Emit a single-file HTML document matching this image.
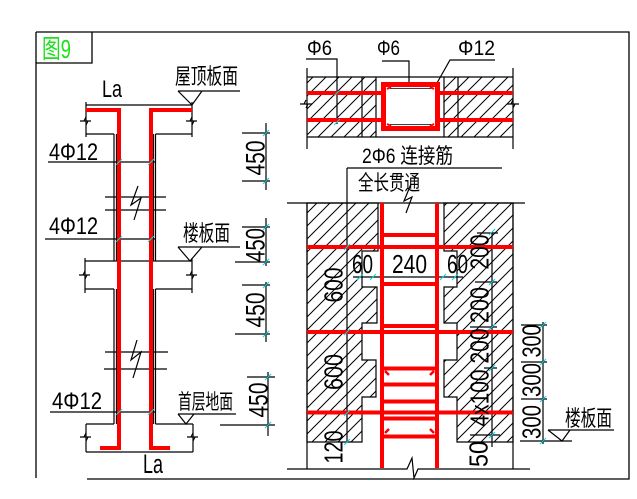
<!DOCTYPE html>
<html><head><meta charset="utf-8"><style>
html,body{margin:0;padding:0;background:#fff;}
svg{display:block;}
text{font-family:"Liberation Sans","Noto Sans CJK SC",sans-serif;fill:#000;}
</style></head><body>
<svg width="637" height="499" viewBox="0 0 637 499" xmlns="http://www.w3.org/2000/svg">
<defs>
<pattern id="h" patternUnits="userSpaceOnUse" width="13" height="13">
<path d="M0,13 L13,0 M-2,2 L2,-2 M11,15 L15,11" stroke="#000" stroke-width="1"/>
</pattern>
</defs>
<rect width="637" height="499" fill="#fff"/>

<!-- frame -->
<g stroke="#000" stroke-width="1.3" fill="none">
<path d="M36,32 H629 V479 H87 M36,32 V478 M36,63 H92 V32"/>
</g>
<text x="42" y="58" font-size="26" style="fill:#1ee01e" textLength="29" lengthAdjust="spacingAndGlyphs">图9</text>

<!-- ===== LEFT ELEVATION ===== -->
<g stroke="#000" stroke-width="1.2" fill="none">
<!-- top beam -->
<path d="M86,105 H192 M86,134 H114 M155.5,134 H192 M86,102 V137 M192,102 V137"/>
<path d="M80,121 H91 M86,117 L84,121 L88,121 L86,125 M186,121 H197 M192,117 L190,121 L194,121 L192,125"/>
<!-- column upper -->
<path d="M114,134 V261 M116.5,134 V261 M153.5,134 V261 M155.5,134 V261"/>
<!-- break 1 -->
<path d="M105,197 H166 M105,210 H166"/>
<path d="M138,186 L131,205 L141,198 L134,220"/>
<!-- slab -->
<path d="M85,261 H192 M85,289 H114 M155.5,289 H192 M85,258 V293 M192,258 V293"/>
<path d="M79,275 H90 M85,271 L83,275 L87,275 L85,279 M186,275 H197 M192,271 L190,275 L194,275 L192,279"/>
<!-- column lower -->
<path d="M114,289 V424 M116.5,289 V424 M153.5,289 V424 M155.5,289 V424"/>
<!-- break 2 -->
<path d="M105,352 H168 M104,369 H167"/>
<path d="M137,340 L131,360 L141,352 L133,378"/>
<!-- ground beam -->
<path d="M86,424 H114 M155.5,424 H193 M86,452 H193 M86,424 V452 M193,424 V452"/>
<path d="M80,437 H91 M86,433 L84,437 L88,437 L86,441 M187,437 H198 M193,433 L191,437 L195,437 L193,441"/>
<!-- leaders -->
<path d="M48,162 H155 M45,239 H155 M50,412 H155"/>
<!-- labels underline + triangles -->
<path d="M178,91 H240 M178,91 L192,105 L202,91"/>
<path d="M178,247 H240 M178,247 L190,261 L202,247"/>
<path d="M178,414 H236 M178,414 L186,424 L194,414"/>
<!-- dims 450 -->
<path d="M266,123 V190 M242,133 H270 M242,181 H270"/>
<path d="M266,218 V266 M242,227 H270 M235,262 H270"/>
<path d="M266,282 V342 M242,285 H270 M235,334 H270"/>
<path d="M268,372 V436 M247,377 H275 M220,425 H275"/>
</g>
<!-- red rebar left -->
<g stroke="#ff0000" stroke-width="4" fill="none" stroke-linejoin="miter">
<path d="M86,110 H119 V448 H100"/>
<path d="M192,110 H151 V448 H170"/>
</g>
<!-- cyan ticks left -->
<g stroke="#00d8e8" stroke-width="1">
<path d="M116,165 L122,159 M148,165 L154,159 M116,242 L122,236 M148,242 L154,236 M116,415 L122,409 M148,415 L154,409"/>
<path d="M263,136 L269,130 M263,184 L269,178 M263,230 L269,224 M263,265 L269,259 M263,288 L269,282 M263,337 L269,331 M265,380 L271,374 M265,428 L271,422"/>
</g>
<!-- left texts -->
<text x="102" y="97" font-size="24" textLength="20" lengthAdjust="spacingAndGlyphs">La</text>
<text x="143" y="473" font-size="27" textLength="20" lengthAdjust="spacingAndGlyphs">La</text>
<text x="49" y="160" font-size="24" textLength="49" lengthAdjust="spacingAndGlyphs">4Φ12</text>
<text x="49" y="234" font-size="24" textLength="49" lengthAdjust="spacingAndGlyphs">4Φ12</text>
<text x="52" y="409" font-size="24" textLength="50" lengthAdjust="spacingAndGlyphs">4Φ12</text>
<text x="175" y="84" font-size="22" textLength="63" lengthAdjust="spacingAndGlyphs">屋顶板面</text>
<text x="183" y="241" font-size="22" textLength="47" lengthAdjust="spacingAndGlyphs">楼板面</text>
<text x="178" y="409" font-size="21" textLength="55" lengthAdjust="spacingAndGlyphs">首层地面</text>
<g font-size="27">
<text transform="translate(255,158) rotate(-90)" text-anchor="middle" dy="0.36em" textLength="35" lengthAdjust="spacingAndGlyphs">450</text>
<text transform="translate(255,245) rotate(-90)" text-anchor="middle" dy="0.36em" textLength="34" lengthAdjust="spacingAndGlyphs">450</text>
<text transform="translate(255,310) rotate(-90)" text-anchor="middle" dy="0.36em" textLength="35" lengthAdjust="spacingAndGlyphs">450</text>
<text transform="translate(258,400) rotate(-90)" text-anchor="middle" dy="0.36em" textLength="35" lengthAdjust="spacingAndGlyphs">450</text>
</g>

<!-- ===== TOP PLAN ===== -->
<rect x="307" y="77" width="69" height="60" fill="url(#h)"/>
<rect x="444" y="77" width="69" height="60" fill="url(#h)"/>
<g stroke="#000" stroke-width="1.2" fill="none">
<path d="M307,77 H513 M307,137 H513 M307,68 V149 M513,68 V149 M362,77 V137 M376,77 V137 M444,77 V137 M458,77 V137"/>
<path d="M300,104 H312 M306,100 L304,104 L308,104 L306,108 M507,104 H519 M513,100 L511,104 L515,104 L513,108"/>
<path d="M306,59 H337 V124 M382,61 H409 V83 M495,60 H450 L437,83"/>
</g>
<g stroke="#ff0000" stroke-width="4" fill="none">
<path d="M307,93 H382 M439,93 H513 M307,120 H382 M439,120 H513"/>
</g>
<rect x="383.5" y="84.5" width="54" height="44" fill="#fff" stroke="#ff0000" stroke-width="5"/>
<g stroke="#ff0000" stroke-width="2" fill="none">
<path d="M387,89 L391,87 M434,89 L430,87 M387,124 L391,126 M434,124 L430,126"/>
</g>
<g stroke="#000" stroke-width="0.8" fill="none">
<path d="M390,88.5 H431 M390,124.5 H431"/>
</g>
<g stroke="#00d8e8" stroke-width="1">
<path d="M334,96 L340,90 M334,125 L340,119"/>
</g>
<text x="307" y="55" font-size="21" textLength="25" lengthAdjust="spacingAndGlyphs">Φ6</text>
<text x="377" y="55" font-size="21" textLength="23" lengthAdjust="spacingAndGlyphs">Φ6</text>
<text x="458" y="55" font-size="21" textLength="37" lengthAdjust="spacingAndGlyphs">Φ12</text>
<text x="362" y="163" font-size="21" textLength="91" lengthAdjust="spacingAndGlyphs">2Φ6 连接筋</text>
<text x="358" y="190" font-size="21" textLength="62" lengthAdjust="spacingAndGlyphs">全长贯通</text>

<!-- ===== ELEVATION SECTION ===== -->
<polygon points="307,203 378,203 378,251 362,251 362,287 377,287 377,323 362,323 362,360 376,360 376,397 362,397 362,442 307,442" fill="url(#h)" stroke="#000" stroke-width="1.2"/>
<polygon points="444,203 513,203 513,442 457,442 457,397 444,397 444,360 457,360 457,323 444,323 444,287 457,287 457,251 444,251" fill="url(#h)" stroke="#000" stroke-width="1.2"/>
<g stroke="#000" stroke-width="1.2" fill="none">
<path d="M287,203 H525 M307,203 V469 M513,203 V469"/>
<path d="M347,168 H502 M347,168 V442"/>
<path d="M411,184 L404,201 L412,197 L406,213"/>
<path d="M287,469 H407 L412,458 L414,478 L418,469 H530"/>
<!-- 60 240 60 dim -->
<path d="M353,277 H463"/>
<!-- right dims -->
<path d="M492,232 V447 M477,233 H498 M475,282 H497 M470,327 H497 M484,368 H497 M470,435 H500"/>
<path d="M543,322 V444 M521,325 H547 M521,362 H547 M521,399 H547 M520,441 H572"/>
<path d="M548,430 H614 M548,430 L562,441 L570,430"/>
</g>
<!-- red in elevation -->
<g stroke="#ff0000" stroke-width="4" fill="none">
<path d="M382,203 V468 M437,203 V468"/>
<path d="M307,247 H513 M307,332 H513 M307,412.5 H513"/>
<path d="M382,235 H437 M382,284 H437 M382,326 H437 M382,368.5 H437 M382,384.5 H437 M382,401.5 H437 M382,418.5 H437 M382,436.5 H437"/>
</g>
<g stroke="#ff0000" stroke-width="2.5" fill="none">
<path d="M385,371 L389,375 M434,371 L430,375 M385,433 L389,429 M434,433 L430,429"/>
</g>
<g stroke="#00d8e8" stroke-width="1">
<path d="M344,250 L350,244 M344,335 L350,329 M344,416 L350,410 M344,445 L350,439"/>
<path d="M357,280 L363,274 M370,280 L376,274 M440,280 L446,274 M452,280 L458,274"/>
<path d="M489,235 L495,229 M489,285 L495,279 M489,330 L495,324 M489,371 L495,365 M489,438 L495,432"/>
<path d="M540,328 L546,322 M540,365 L546,359 M540,402 L546,396 M540,444 L546,438"/>
</g>
<!-- elevation texts -->
<text x="352" y="273" font-size="26" textLength="21" lengthAdjust="spacingAndGlyphs">60</text>
<text x="392" y="273" font-size="26" textLength="35" lengthAdjust="spacingAndGlyphs">240</text>
<text x="447" y="273" font-size="26" textLength="21" lengthAdjust="spacingAndGlyphs">60</text>
<g font-size="26">
<text transform="translate(333,285) rotate(-90)" text-anchor="middle" dy="0.36em" textLength="35" lengthAdjust="spacingAndGlyphs">600</text>
<text transform="translate(333,372) rotate(-90)" text-anchor="middle" dy="0.36em" textLength="36" lengthAdjust="spacingAndGlyphs">600</text>
<text transform="translate(333,447) rotate(-90)" text-anchor="middle" dy="0.36em" textLength="33" lengthAdjust="spacingAndGlyphs">120</text>
<text transform="translate(479,252) rotate(-90)" text-anchor="middle" dy="0.36em" textLength="35" lengthAdjust="spacingAndGlyphs">200</text>
<text transform="translate(479,305) rotate(-90)" text-anchor="middle" dy="0.36em" textLength="36" lengthAdjust="spacingAndGlyphs">200</text>
<text transform="translate(479,346) rotate(-90)" text-anchor="middle" dy="0.36em" textLength="35" lengthAdjust="spacingAndGlyphs">200</text>
<text transform="translate(479,398) rotate(-90)" text-anchor="middle" dy="0.36em" textLength="57" lengthAdjust="spacingAndGlyphs">4x100</text>
<text transform="translate(478,454) rotate(-90)" text-anchor="middle" dy="0.36em" textLength="26" lengthAdjust="spacingAndGlyphs">50</text>
<text transform="translate(531,341) rotate(-90)" text-anchor="middle" dy="0.36em" textLength="33" lengthAdjust="spacingAndGlyphs">300</text>
<text transform="translate(531,380) rotate(-90)" text-anchor="middle" dy="0.36em" textLength="34" lengthAdjust="spacingAndGlyphs">300</text>
<text transform="translate(531,422) rotate(-90)" text-anchor="middle" dy="0.36em" textLength="34" lengthAdjust="spacingAndGlyphs">300</text>
</g>
<text x="565" y="426" font-size="22" textLength="47" lengthAdjust="spacingAndGlyphs">楼板面</text>
</svg>
</body></html>
